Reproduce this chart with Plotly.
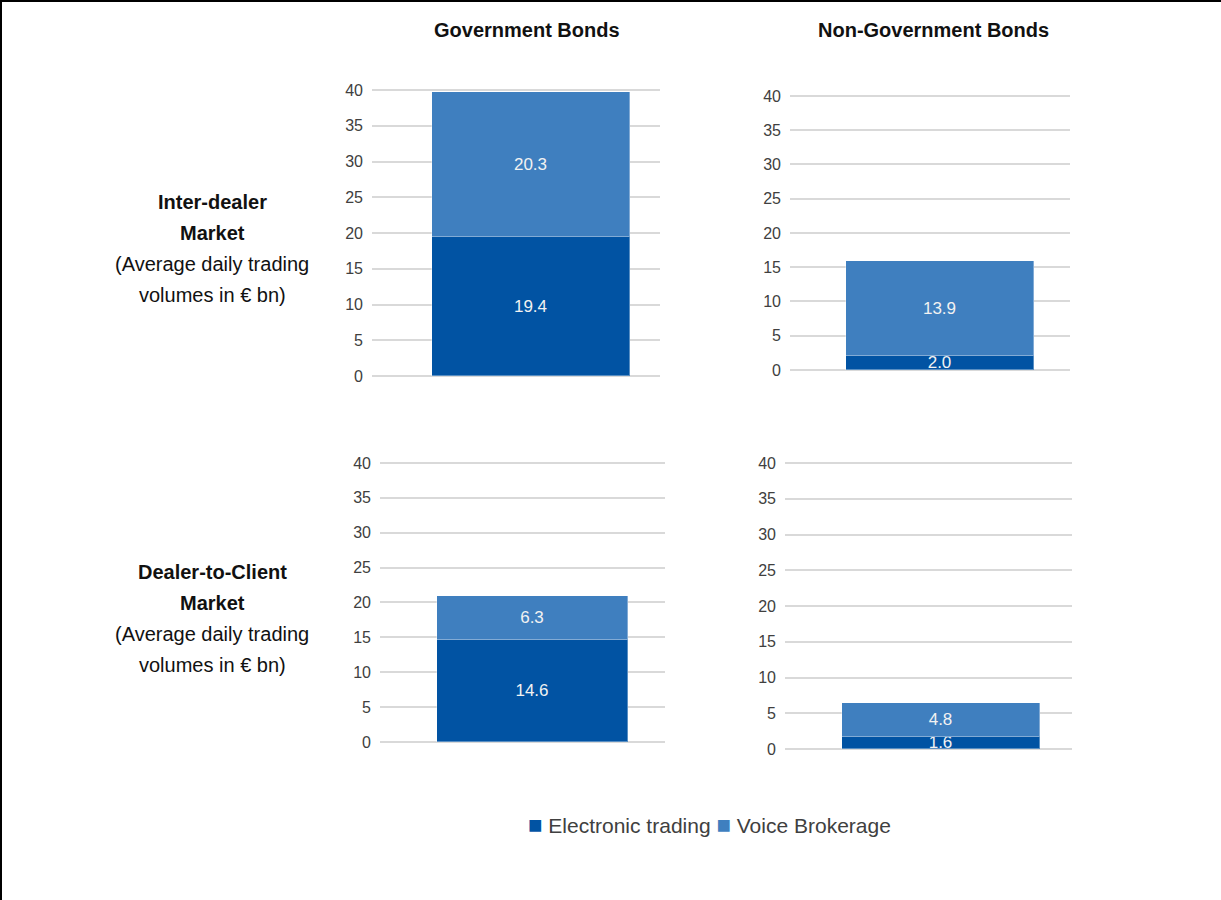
import plotly.graph_objects as go

# Average daily trading volumes (EUR bn) per market / bond segment
segments = ["Government Bonds", "Non-Government Bonds"]
markets = ["Inter-dealer", "Dealer-to-Client"]
electronic = [19.4, 2.0, 14.6, 1.6]   # order: GB/ID, NGB/ID, GB/DC, NGB/DC
voice = [20.3, 13.9, 6.3, 4.8]
y_ticks = [0, 5, 10, 15, 20, 25, 30, 35, 40]
series = ["Electronic trading", "Voice Brokerage"]

W, H = 1221, 900          # design grid, in pixels
FIG_H = 914               # drawn canvas height
DARK = "#0153A3"
LIGHT = "#3F7FBF"
FONT = "Liberation Sans"
PAD = 0.25  # small headroom so the 0 and 40 gridlines are drawn

def px_x(p):
    return p / W

def px_y(p):
    return 1 - p / H

# panel frames on the design grid: (left, right, y at 40, y at 0, bar width, bar shift)
frames = [
    (372, 660, 90, 376, 0.69, 0.052),
    (790, 1070, 96, 370, 0.67, 0.036),
    (380, 665, 463, 742, 0.67, 0.035),
    (785, 1072, 463, 749, 0.69, 0.045),
]

fig = go.Figure()
for i, (l, r, t, b, bw, shift) in enumerate(frames):
    ax = "" if i == 0 else str(i + 1)
    for name, vals, col in ((series[0], electronic, DARK),
                            (series[1], voice, LIGHT)):
        fig.add_trace(go.Bar(
            x=[0], y=[vals[i]], name=name, width=bw,
            marker=dict(color=col, line=dict(color="rgba(255,255,255,0.35)", width=1)),
            text=[vals[i]], texttemplate="%{y:.1f}", textposition="inside",
            insidetextanchor="middle", textangle=0, constraintext="none",
            textfont=dict(family=FONT, size=17, color="#F2F2F2"),
            xaxis="x" + ax, yaxis="y" + ax,
            legendgroup=name, showlegend=False, hoverinfo="skip",
        ))
    unit = (b - t) / 40.0
    fig.layout["xaxis" + ax] = dict(
        domain=[px_x(l), px_x(r)], range=[-0.5 - shift, 0.5 - shift], visible=False,
        anchor="y" + ax, fixedrange=True,
    )
    fig.layout["yaxis" + ax] = dict(
        domain=[px_y(b + PAD * unit), px_y(t - PAD * unit)], range=[-PAD, 40 + PAD],
        tickvals=y_ticks,
        showgrid=True, gridcolor="#D9D9D9", gridwidth=2, zeroline=False,
        showline=False, ticks="", ticklabelstandoff=8,
        tickfont=dict(family=FONT, size=16, color="#404040"),
        anchor="x" + ax, fixedrange=True,
    )

annotations = []
# column titles
for seg, cx in zip(segments, (527, 933)):
    annotations.append(dict(
        text="<b>%s</b>" % seg, x=px_x(cx), y=px_y(30), xref="paper", yref="paper",
        showarrow=False, xanchor="center", yanchor="middle",
        font=dict(family=FONT, size=20, color="#111111"),
    ))
# row labels
for mk, y0 in zip(markets, (202, 572)):
    lines = ["<b>%s</b>" % mk, "<b>Market</b>",
             "(Average daily trading", "volumes in € bn)"]
    for k, ln in enumerate(lines):
        annotations.append(dict(
            text=ln, x=px_x(212), y=px_y(y0 + k * 31), xref="paper", yref="paper",
            showarrow=False, xanchor="center", yanchor="middle",
            font=dict(family=FONT, size=20, color="#111111"),
        ))
# key below the panels
key = " ".join('<span style="color:%s;font-size:24px">■</span> %s' % (c, s)
               for c, s in zip((DARK, LIGHT), series))
annotations.append(dict(
    text=key, x=px_x(526), y=px_y(824), xref="paper", yref="paper",
    showarrow=False, xanchor="left", yanchor="middle",
    font=dict(family=FONT, size=21, color="#404040"),
))

fig.update_layout(
    width=W, height=FIG_H, margin=dict(l=0, r=0, t=0, b=0),
    paper_bgcolor="white", plot_bgcolor="white",
    barmode="stack", bargap=0, showlegend=False,
    annotations=annotations,
    shapes=[
        dict(type="line", xref="paper", yref="paper", x0=0, x1=1, y0=1, y1=1,
             line=dict(color="black", width=4)),
        dict(type="line", xref="paper", yref="paper", x0=0, x1=0, y0=0, y1=1,
             line=dict(color="black", width=4)),
    ],
)

pin_to_corner = (
    "document.body.style.margin='0';"
    "var d=document.getElementById('{plot_id}');"
    "d.style.position='fixed';d.style.top='-7px';d.style.left='0';"
)
fig.write_html("out.html", post_script=pin_to_corner)
